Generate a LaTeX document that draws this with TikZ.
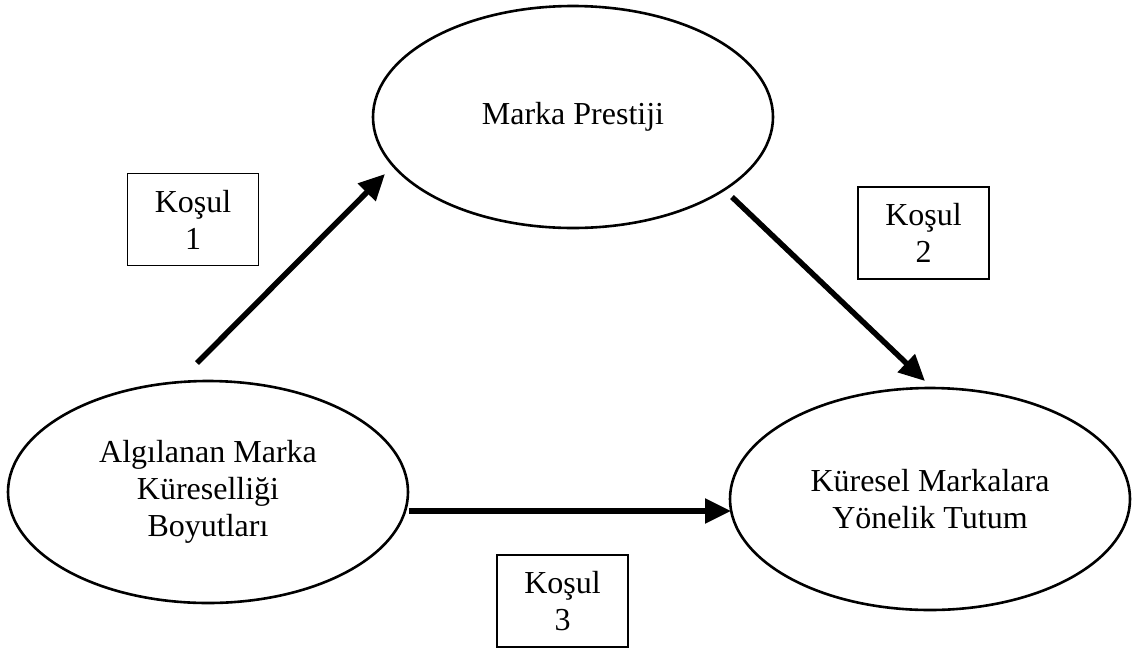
\documentclass[tikz,border=0pt]{standalone}
\usepackage{fontspec}
\setmainfont{Liberation Serif}
\usetikzlibrary{shapes.geometric,arrows.meta}
\begin{document}
\begin{tikzpicture}[x=1pt,y=-1pt,
  txt/.style={font=\fontsize{32}{37}\selectfont, align=center, text=black},
  oval/.style={ellipse, draw=black, line width=2.6pt, inner sep=0pt,
    minimum width=400pt, minimum height=222pt, txt},
  cond/.style={draw=black, line width=1.3pt, minimum width=131pt,
    minimum height=92pt, inner sep=0pt, txt},
  link/.style={line width=5.5pt, -{Triangle[length=26pt,width=24pt]}}]
  \useasboundingbox (0,0) rectangle (1132,649);
  % constructs
  \node[oval] (prestij) at (573,117) {Marka Prestiji};
  \node[oval] (kuresellik) at (208,492) {Algılanan Marka\\Küreselliği\\Boyutları};
  \node[oval] (tutum) at (930,499) {Küresel Markalara\\Yönelik Tutum};
  % condition labels
  \node[cond] (k1) at (193,219.5) {Koşul\\1};
  \node[cond] (k2) at (923.5,233) {Koşul\\2};
  \node[cond] (k3) at (562.5,601) {Koşul\\3};
  % arrow ends
  \coordinate (a1s) at (197,363);
  \coordinate (a1e) at (385,174);
  \coordinate (a2s) at (732,197);
  \coordinate (a2e) at (925,381);
  \coordinate (a3s) at (409,511);
  \coordinate (a3e) at (731,511);
  \draw[link] (a1s) -- (a1e);
  \draw[link] (a2s) -- (a2e);
  \draw[link] (a3s) -- (a3e);
\end{tikzpicture}
\end{document}
